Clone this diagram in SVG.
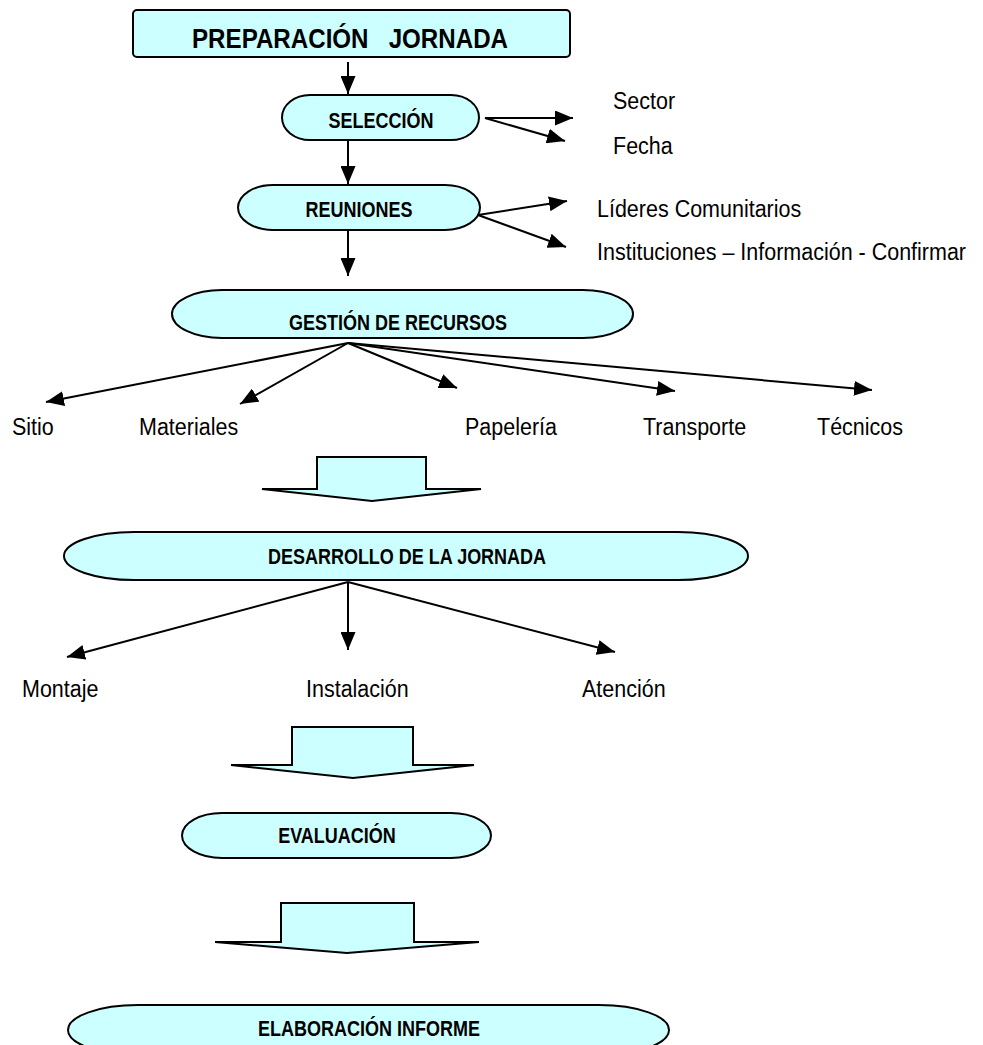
<svg xmlns="http://www.w3.org/2000/svg" width="983" height="1045" viewBox="0 0 983 1045">
<style>
.box{fill:#CCFFFF;stroke:#000;stroke-width:2}
.nt{font-family:"Liberation Sans",Arial,sans-serif;font-weight:bold;font-size:18px;fill:#000;text-anchor:middle}
.tt{font-family:"Liberation Sans",Arial,sans-serif;font-weight:bold;font-size:24px;fill:#000;text-anchor:middle;white-space:pre}
.lb{font-family:"Liberation Sans",Arial,sans-serif;font-size:21.5px;fill:#000}
.cn{stroke:#000;stroke-width:2;fill:none;marker-end:url(#ah)}
.blk{fill:#CCFFFF;stroke:#000;stroke-width:2;stroke-linejoin:miter}
</style>
<defs>
<marker id="ah" markerUnits="userSpaceOnUse" markerWidth="19" markerHeight="15" refX="18" refY="7.5" orient="auto">
<path d="M0,0 L18,7.5 L0,15 z" fill="#000"/>
</marker>
</defs>
<rect width="983" height="1045" fill="#fff"/>

<g id="connectors">
<line class="cn" x1="348" y1="62" x2="348" y2="94"/>
<line class="cn" x1="348" y1="140" x2="348" y2="184"/>
<line class="cn" x1="348" y1="230" x2="348" y2="276"/>
<line class="cn" x1="485" y1="118" x2="573" y2="118"/>
<line class="cn" x1="485" y1="118" x2="565" y2="141"/>
<line class="cn" x1="478" y1="215" x2="567" y2="201"/>
<line class="cn" x1="478" y1="215" x2="566" y2="247"/>
<line class="cn" x1="348" y1="343" x2="46" y2="402"/>
<line class="cn" x1="348" y1="343" x2="240" y2="404"/>
<line class="cn" x1="348" y1="343" x2="457" y2="388"/>
<line class="cn" x1="348" y1="343" x2="675" y2="391"/>
<line class="cn" x1="348" y1="343" x2="872" y2="390"/>
<line class="cn" x1="348" y1="582" x2="67" y2="657"/>
<line class="cn" x1="348" y1="582" x2="348" y2="650"/>
<line class="cn" x1="348" y1="582" x2="615" y2="652"/>
</g>

<g id="block-arrows">
<polygon class="blk" points="317,457 426,457 426,489 481,489 372,501 262,489 317,489"/>
<polygon class="blk" points="292,727 413,727 413,765 474,765 353,778 231,765 292,765"/>
<polygon class="blk" points="281,903 414,903 414,942 479,942 347,953 215,942 281,942"/>
</g>

<g id="n-preparacion">
<rect class="box" x="133" y="10" width="437" height="47" rx="4" ry="4"/>
<text class="tt" transform="translate(350,48) scale(1,1.18)" textLength="316" lengthAdjust="spacingAndGlyphs">PREPARACIÓN   JORNADA</text>
</g>
<g id="n-seleccion">
<rect class="box" x="282" y="95" width="197" height="45" rx="28" ry="22.5"/>
<text class="nt" transform="translate(381,128) scale(1,1.18)">SELECCIÓN</text>
</g>
<g id="n-reuniones">
<rect class="box" x="238" y="185" width="242" height="45" rx="35" ry="22.5"/>
<text class="nt" transform="translate(359,217) scale(1,1.18)">REUNIONES</text>
</g>
<g id="n-gestion">
<rect class="box" x="172" y="290" width="461" height="48" rx="50" ry="24"/>
<text class="nt" transform="translate(398,330) scale(1,1.18)">GESTIÓN DE RECURSOS</text>
</g>
<g id="n-desarrollo">
<rect class="box" x="64" y="532" width="684" height="48" rx="70" ry="24"/>
<text class="nt" transform="translate(407,564) scale(1,1.18)">DESARROLLO DE LA JORNADA</text>
</g>
<g id="n-evaluacion">
<rect class="box" x="182" y="813" width="309" height="45" rx="40" ry="22.5"/>
<text class="nt" transform="translate(337,843) scale(1,1.18)">EVALUACIÓN</text>
</g>
<g id="n-elaboracion">
<rect class="box" x="68" y="1005" width="601" height="50" rx="70" ry="25"/>
<text class="nt" transform="translate(369,1036) scale(1,1.18)">ELABORACIÓN INFORME</text>
</g>

<g id="labels">
<text class="lb" transform="translate(613,109) scale(1,1.15)">Sector</text>
<text class="lb" transform="translate(613,154) scale(1,1.15)">Fecha</text>
<text class="lb" transform="translate(597,217) scale(1,1.15)">Líderes Comunitarios</text>
<text class="lb" transform="translate(597,260) scale(1,1.15)">Instituciones – Información - Confirmar</text>
<text class="lb" transform="translate(12,435) scale(1,1.15)">Sitio</text>
<text class="lb" transform="translate(139,435) scale(1,1.15)">Materiales</text>
<text class="lb" transform="translate(465,435) scale(1,1.15)">Papelería</text>
<text class="lb" transform="translate(643,435) scale(1,1.15)">Transporte</text>
<text class="lb" transform="translate(817,435) scale(1,1.15)">Técnicos</text>
<text class="lb" transform="translate(22,697) scale(1,1.15)">Montaje</text>
<text class="lb" transform="translate(306,697) scale(1,1.15)">Instalación</text>
<text class="lb" transform="translate(582,697) scale(1,1.15)">Atención</text>
</g>
</svg>
